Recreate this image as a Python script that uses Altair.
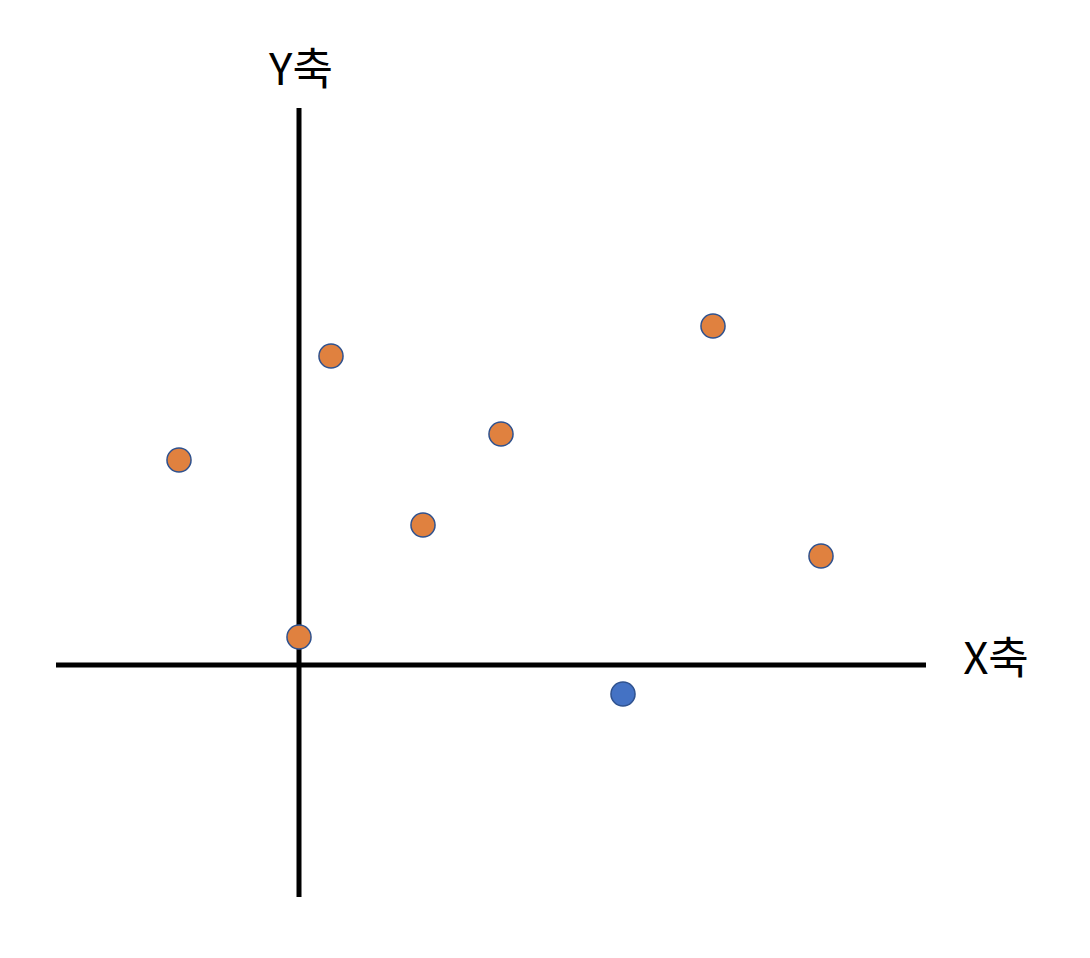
import altair as alt
import pandas as pd

# data coordinates (origin at the axes' crossing)
xs = [-12.0, 3.2, 12.4, 20.2, 41.4, 52.2, 0.0, 32.4]
ys = [20.5, 30.9, 14.0, 23.1, 33.9, 10.9, 2.8, -2.9]
groups = ["o", "o", "o", "o", "o", "o", "o", "b"]

axis_x = [-24.3, 62.7]
axis_y = [-23.2, 55.7]
labels = ["X축", "Y축"]
label_x = [69.7, 0.2]
label_y = [0.4, 59.3]

XD = [-29.1, 78.3]
YD = [-28.5, 65.7]

xsc = alt.Scale(domain=XD, nice=False, zero=False)
ysc = alt.Scale(domain=YD, nice=False, zero=False)

pts = pd.DataFrame({"x": xs, "y": ys, "g": groups})
hline = pd.DataFrame({"x": [axis_x[0]], "x2": [axis_x[1]], "y": [0.0]})
vline = pd.DataFrame({"y": [axis_y[0]], "y2": [axis_y[1]], "x": [0.0]})
lab = pd.DataFrame({"t": labels, "x": label_x, "y": label_y})

h = alt.Chart(hline).mark_rule(color="black", strokeWidth=5).encode(
    x=alt.X("x:Q", scale=xsc, axis=None), x2="x2:Q",
    y=alt.Y("y:Q", scale=ysc, axis=None))
v = alt.Chart(vline).mark_rule(color="black", strokeWidth=5).encode(
    x=alt.X("x:Q", scale=xsc, axis=None),
    y=alt.Y("y:Q", scale=ysc, axis=None), y2="y2:Q")
p = alt.Chart(pts).mark_point(filled=True, shape="circle", size=580, opacity=1,
                              stroke="#2F528F", strokeWidth=1.5).encode(
    x=alt.X("x:Q", scale=xsc, axis=None),
    y=alt.Y("y:Q", scale=ysc, axis=None),
    fill=alt.Fill("g:N", scale=alt.Scale(domain=["o", "b"], range=["#E0813F", "#4472C4"]), legend=None))
t = alt.Chart(lab).mark_text(fontSize=44, font="Noto Sans CJK KR", color="black",
                             align="center", baseline="middle").encode(
    x=alt.X("x:Q", scale=xsc, axis=None),
    y=alt.Y("y:Q", scale=ysc, axis=None),
    text="t:N")

chart = alt.layer(h, v, p, t).properties(
    width=1074, height=942, padding=0,
    autosize=alt.AutoSizeParams(type="none")
).configure_view(stroke=None)

chart.save("out.html", embed_options={"renderer": "svg", "actions": False})
